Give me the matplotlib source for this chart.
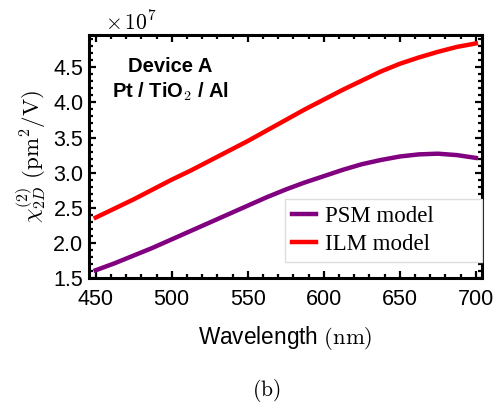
import matplotlib.pyplot as plt
from matplotlib.ticker import MultipleLocator

plt.rcParams['mathtext.fontset'] = 'cm'
plt.rcParams['font.family'] = 'Liberation Sans'

# wavelength (nm) and chi^(2)_2D in units of 1e7 pm^2/V
wavelength = [450, 462.5, 475, 487.5, 500, 512.5, 525, 537.5, 550, 562.5, 575,
              587.5, 600, 612.5, 625, 637.5, 650, 662.5, 675, 687.5, 700]
psm_model = [1.61, 1.71, 1.82, 1.93, 2.05, 2.17, 2.29, 2.41, 2.53, 2.65, 2.76,
             2.86, 2.95, 3.04, 3.12, 3.18, 3.23, 3.26, 3.27, 3.25, 3.21]
ilm_model = [2.36, 2.49, 2.62, 2.76, 2.90, 3.03, 3.17, 3.31, 3.45, 3.60, 3.75,
             3.90, 4.04, 4.18, 4.31, 4.44, 4.55, 4.64, 4.72, 4.79, 4.84]

fig = plt.figure(figsize=(5.02, 4.05), dpi=100)
ax = fig.add_axes([0.177, 0.3136, 0.783, 0.600])

ax.plot(wavelength, psm_model, color='#800080', lw=3.2, label='PSM model')
ax.plot(wavelength, ilm_model, color='#ff0000', lw=3.2, label='ILM model')

ax.set_xlim(445.5, 704)
ax.set_ylim(1.5, 4.96)
ax.xaxis.set_major_locator(MultipleLocator(50))
ax.xaxis.set_minor_locator(MultipleLocator(10))
ax.yaxis.set_minor_locator(MultipleLocator(0.1))
ax.set_yticks([1.5, 2.0, 2.5, 3.0, 3.5, 4.0, 4.5])
ax.set_yticklabels(['1.5', '2.0', '2.5', '3.0', '3.5', '4.0', '4.5'])
ax.tick_params(which='both', direction='in', top=True, right=True, width=1.6)
ax.tick_params(which='major', length=5, labelsize=15.5)
ax.tick_params(axis='x', which='major', pad=8)
ax.tick_params(axis='y', which='major', pad=4)
ax.tick_params(which='minor', length=3)
for sp in ax.spines.values():
    sp.set_linewidth(2.2)

ax.set_xlabel(r'Wavelength $\mathrm{(nm)}$', fontsize=16.3, labelpad=10)
ax.set_ylabel(r'$\chi^{(2)}_{2D}\ \mathrm{(pm^2/V)}$', fontsize=16.5, labelpad=4)

ax.text(0.04, 1.0, r'$\times\,10^7$', transform=ax.transAxes, fontsize=15.5,
        ha='left', va='bottom')

ax.text(499, 4.51, 'Device A', fontsize=14.5, fontweight='bold', ha='center', va='center')
ax.text(499, 4.15, r'Pt / TiO$_\mathbf{2}$ / Al', fontsize=14.5, fontweight='bold',
        ha='center', va='center')

leg = ax.legend(loc='lower left', bbox_to_anchor=(0.499, 0.066, 0.501, 0.267),
                mode='expand', borderaxespad=0, fancybox=False,
                prop={'family': 'Liberation Serif', 'size': 16.5},
                handlelength=1.05, handletextpad=0.4, borderpad=0.3,
                labelspacing=0.3, framealpha=1)
leg.get_frame().set_edgecolor('#dddddd')
leg.get_frame().set_linewidth(1.0)

fig.text(266 / 502, 1 - 390 / 405, r'$\mathrm{(b)}$', fontsize=15.5, ha='center', va='center')

fig.savefig('out.png', dpi=100)
